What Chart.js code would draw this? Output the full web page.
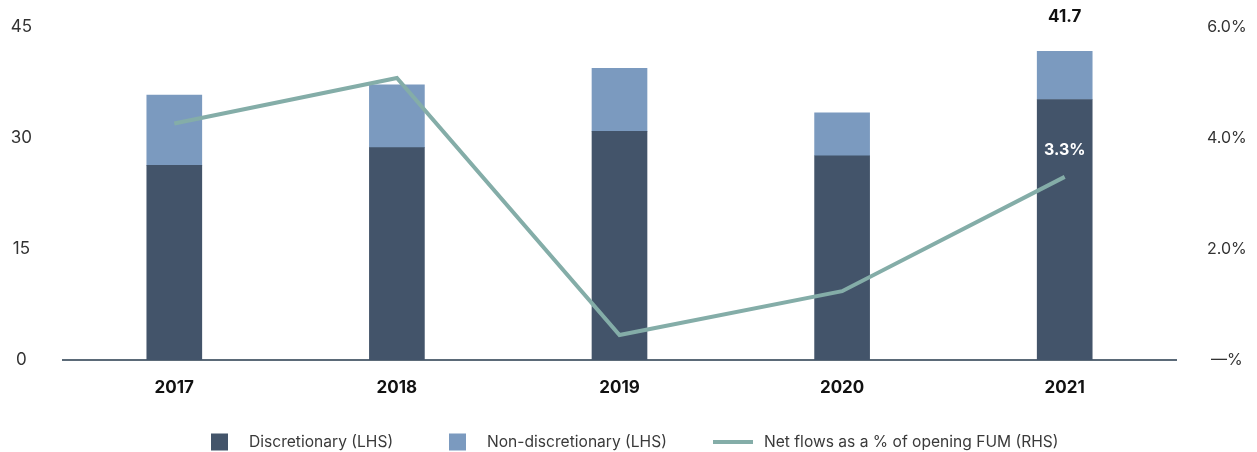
<!DOCTYPE html>
<html>
<head>
  <meta charset="UTF-8">
  <title>Funds under management</title>
  <script src="https://cdn.jsdelivr.net/npm/chart.js"></script>
  <style>
    html, body { margin: 0; padding: 0; background: #fff; }
    #wrap { width: 1257px; height: 452px; }
  </style>
</head>
<body>
  <div id="wrap"><canvas id="grafica" width="1257" height="452"></canvas></div>

  <script>
const years = ['2017', '2018', '2019', '2020', '2021'];
const discretionary = [26.3, 28.7, 30.9, 27.6, 35.2];
const nonDiscretionary = [9.5, 8.5, 8.5, 5.8, 6.5];
const netFlowsPct = [4.26, 5.08, 0.45, 1.24, 3.3];
const leftTicks = [0, 15, 30, 45];
const rightTicks = [0, 2, 4, 6];
const totalLabels = ['', '', '', '', '41.7'];
const flowLabels = ['', '', '', '', '3.3%'];

const DARK = '#43546a';
const LIGHT = '#7b9abf';
const TEAL = '#84ada8';
const FONT = 'Inter, "Noto Sans", sans-serif';

Chart.defaults.font.family = FONT;
Chart.defaults.color = '#333';

// legend drawn by hand so the line item can be wider than the squares
const legendPlugin = {
  id: 'bottomLegend',
  afterDraw(chart) {
    const c = chart.ctx;
    const y = 442;
    const items = [
      { type: 'box', color: DARK, text: chart.data.datasets[1].label, x: 211 },
      { type: 'box', color: LIGHT, text: chart.data.datasets[2].label, x: 449 },
      { type: 'line', color: TEAL, text: chart.data.datasets[0].label, x: 713 }
    ];
    c.save();
    c.font = '15.6px ' + FONT;
    c.textBaseline = 'middle';
    items.forEach(it => {
      if (it.type === 'box') {
        c.fillStyle = it.color;
        c.fillRect(it.x, y - 8.5, 17, 17);
        c.fillStyle = '#3a3a3a';
        c.fillText(it.text, it.x + 38, y);
      } else {
        c.strokeStyle = it.color;
        c.lineWidth = 4;
        c.beginPath();
        c.moveTo(it.x, y);
        c.lineTo(it.x + 40, y);
        c.stroke();
        c.fillStyle = '#3a3a3a';
        c.fillText(it.text, it.x + 51, y);
      }
    });
    c.restore();
  }
};

// value labels: total above the last bar, net flow % above the line point
const valuePlugin = {
  id: 'valueLabels',
  afterDatasetsDraw(chart) {
    const c = chart.ctx;
    const x = chart.scales.x;
    const y = chart.scales.y;
    const y1 = chart.scales.y1;
    c.save();
    c.textAlign = 'center';
    c.textBaseline = 'middle';
    years.forEach((yr, i) => {
      const cx = x.getPixelForValue(i);
      if (totalLabels[i]) {
        const total = discretionary[i] + nonDiscretionary[i];
        c.font = 'bold 17px ' + FONT;
        c.fillStyle = '#111';
        c.fillText(totalLabels[i], cx, y.getPixelForValue(total) - 35);
      }
      if (flowLabels[i]) {
        c.font = 'bold 16px ' + FONT;
        c.fillStyle = '#fff';
        c.fillText(flowLabels[i], cx, y1.getPixelForValue(netFlowsPct[i]) - 27);
      }
    });
    c.restore();
  }
};

// keep the tick padding from pushing the plot area down
function fitSide(width) {
  return s => {
    s.width = width;
    s.paddingTop = 0;
    s.paddingBottom = 0;
  };
}

const ctx = document.getElementById('grafica').getContext('2d');
const chart = new Chart(ctx, {
  data: {
    labels: years,
    datasets: [{
      type: 'line',
      label: 'Net flows as a % of opening FUM (RHS)',
      data: netFlowsPct,
      yAxisID: 'y1',
      borderColor: TEAL,
      borderWidth: 4,
      pointRadius: 0,
      tension: 0,
      order: 0
    }, {
      type: 'bar',
      label: 'Discretionary (LHS)',
      data: discretionary,
      backgroundColor: DARK,
      yAxisID: 'y',
      stack: 'fum',
      order: 1
    }, {
      type: 'bar',
      label: 'Non-discretionary (LHS)',
      data: nonDiscretionary,
      backgroundColor: LIGHT,
      yAxisID: 'y',
      stack: 'fum',
      order: 1
    }]
  },
  options: {
    responsive: false,
    animation: false,
    layout: { padding: { top: 27, bottom: 0, left: 0, right: 0 } },
    datasets: {
      bar: { barThickness: 55 }
    },
    plugins: {
      legend: { display: false },
      tooltip: { enabled: false }
    },
    scales: {
      x: {
        stacked: true,
        grid: { display: false, drawTicks: false },
        border: { display: true, color: '#5b6a78', width: 2 },
        ticks: {
          padding: 18,
          color: '#111',
          font: { size: 17, weight: 'bold' }
        },
        afterFit(s) { s.height = 92; }
      },
      y: {
        stacked: true,
        position: 'left',
        min: 0,
        max: 45,
        afterBuildTicks(s) { s.ticks = leftTicks.map(v => ({ value: v })); },
        grid: { display: false, drawTicks: false },
        border: { display: false },
        ticks: {
          crossAlign: 'center',
          padding: 31,
          color: '#333',
          font: { size: 17 }
        },
        afterFit: fitSide(63)
      },
      y1: {
        position: 'right',
        min: 0,
        max: 6,
        afterBuildTicks(s) { s.ticks = rightTicks.map(v => ({ value: v })); },
        grid: { display: false, drawTicks: false },
        border: { display: false },
        ticks: {
          crossAlign: 'center',
          padding: 31,
          color: '#333',
          font: { size: 16 },
          callback: v => v === 0 ? '\u2014%' : v.toFixed(1) + '%'
        },
        afterFit: fitSide(81)
      }
    }
  },
  plugins: [valuePlugin, legendPlugin]
});
  </script>
</body>
</html>
